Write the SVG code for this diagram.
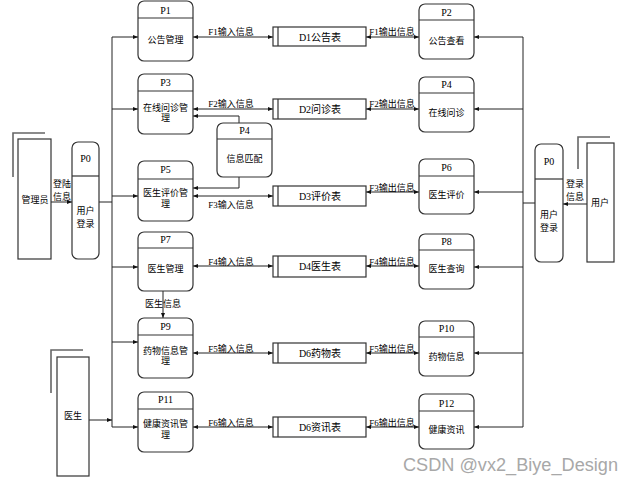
<svg xmlns="http://www.w3.org/2000/svg" width="634" height="484" viewBox="0 0 634 484">
<defs>
<marker id="ah" viewBox="0 0 10 10" refX="10" refY="5" markerWidth="5" markerHeight="5" orient="auto-start-reverse" markerUnits="userSpaceOnUse">
<path d="M0,1 L10,5 L0,9 z" fill="#111"/>
</marker>
<style>
.box{fill:#fff;stroke:#333;stroke-width:1.2}
.hd{stroke:#333;stroke-width:1.2}
.ln{fill:none;stroke:#222;stroke-width:1}
.gl{fill:none;stroke:#666;stroke-width:1.6}
.t{font-family:"Liberation Serif","Noto Sans CJK SC",serif;font-size:9px;fill:#000;text-anchor:middle;dominant-baseline:central}
.p{font-family:"Liberation Serif","Noto Sans CJK SC",serif;font-size:10px;fill:#000;text-anchor:middle;dominant-baseline:central}
.s{font-family:"Liberation Serif","Noto Sans CJK SC",serif;font-size:10px;fill:#000;text-anchor:middle;dominant-baseline:central}
</style>
</defs>
<rect width="634" height="484" fill="#fff"/>

<g id="connectors">
<path class="ln" d="M112,37 V427"/>
<path class="ln" d="M99,202 H112"/>
<path class="ln" d="M112,37 H138" marker-end="url(#ah)"/>
<path class="ln" d="M112,109 H138" marker-end="url(#ah)"/>
<path class="ln" d="M112,196 H138" marker-end="url(#ah)"/>
<path class="ln" d="M112,267 H138" marker-end="url(#ah)"/>
<path class="ln" d="M112,342 H138" marker-end="url(#ah)"/>
<path class="ln" d="M112,427 H138" marker-end="url(#ah)"/>
<path class="ln" d="M89,420 H112" marker-end="url(#ah)"/>
<path class="ln" d="M51,202 H72" marker-end="url(#ah)"/>
<path class="ln" d="M523,37 V427"/>
<path class="ln" d="M535,203 H523"/>
<path class="ln" d="M523,37 H474" marker-end="url(#ah)"/>
<path class="ln" d="M523,109 H474" marker-end="url(#ah)"/>
<path class="ln" d="M523,192 H474" marker-end="url(#ah)"/>
<path class="ln" d="M523,267 H474" marker-end="url(#ah)"/>
<path class="ln" d="M523,353 H474" marker-end="url(#ah)"/>
<path class="ln" d="M523,427 H474" marker-end="url(#ah)"/>
<path class="ln" d="M587,204 H563" marker-end="url(#ah)"/>
<path class="ln" d="M193,37 H273" marker-start="url(#ah)" marker-end="url(#ah)"/>
<path class="ln" d="M366,37 H419" marker-start="url(#ah)" marker-end="url(#ah)"/>
<path class="ln" d="M193,109 H273" marker-start="url(#ah)" marker-end="url(#ah)"/>
<path class="ln" d="M366,109 H419" marker-start="url(#ah)" marker-end="url(#ah)"/>
<path class="ln" d="M193,196 H273" marker-start="url(#ah)" marker-end="url(#ah)"/>
<path class="ln" d="M366,192 H419" marker-start="url(#ah)" marker-end="url(#ah)"/>
<path class="ln" d="M193,266 H273" marker-start="url(#ah)" marker-end="url(#ah)"/>
<path class="ln" d="M366,266 H419" marker-start="url(#ah)" marker-end="url(#ah)"/>
<path class="ln" d="M193,353 H273" marker-start="url(#ah)" marker-end="url(#ah)"/>
<path class="ln" d="M366,353 H419" marker-start="url(#ah)" marker-end="url(#ah)"/>
<path class="ln" d="M193,427 H273" marker-start="url(#ah)" marker-end="url(#ah)"/>
<path class="ln" d="M366,427 H419" marker-start="url(#ah)" marker-end="url(#ah)"/>
<path class="ln" d="M239,123 V116 H193" marker-end="url(#ah)"/>
<path class="ln" d="M239,177 V188 H193" marker-end="url(#ah)"/>
<path class="ln" d="M163,291 V318" marker-end="url(#ah)"/>
<text class="t" x="231" y="32">F1输入信息</text>
<text class="t" x="392" y="32">F1输出信息</text>
<text class="t" x="231" y="104">F2输入信息</text>
<text class="t" x="392" y="104">F2输出信息</text>
<text class="t" x="231" y="205">F3输入信息</text>
<text class="t" x="392" y="188">F3输出信息</text>
<text class="t" x="231" y="262">F4输入信息</text>
<text class="t" x="392" y="262">F4输出信息</text>
<text class="t" x="231" y="349">F5输入信息</text>
<text class="t" x="392" y="349">F5输出信息</text>
<text class="t" x="231" y="423">F6输入信息</text>
<text class="t" x="392" y="423">F6输出信息</text>
<text class="t" x="163" y="304">医生信息</text>
<text class="t" x="62" y="184">登陆</text>
<text class="t" x="62" y="197">信息</text>
<text class="t" x="575" y="184">登录</text>
<text class="t" x="575" y="197">信息</text>
</g>

<g id="E_admin">
<path class="gl" d="M13,177 V133 H45"/>
<rect class="box" x="18" y="139" width="33" height="120"/>
<text class="t" x="35" y="200">管理员</text>
</g>
<g id="E_doctor">
<path class="gl" d="M51,393 V350 H83"/>
<rect class="box" x="57" y="357" width="32" height="119"/>
<text class="t" x="73" y="416">医生</text>
</g>
<g id="E_user">
<path class="gl" d="M578,169 V137 H610"/>
<rect class="box" x="587" y="143" width="27" height="119"/>
<text class="t" x="600" y="203">用户</text>
</g>

<g id="P0L">
<rect class="box" x="72" y="142" width="27" height="117" rx="6"/>
<line class="hd" x1="72" y1="176" x2="99" y2="176"/>
<text class="p" x="85.5" y="158">P0</text>
<text class="t" x="85.5" y="211">用户</text>
<text class="t" x="85.5" y="224">登录</text>
</g>
<g id="P0R">
<rect class="box" x="535" y="144" width="28" height="118" rx="6"/>
<line class="hd" x1="535" y1="179" x2="563" y2="179"/>
<text class="p" x="549" y="161">P0</text>
<text class="t" x="549" y="215">用户</text>
<text class="t" x="549" y="228">登录</text>
</g>

<g id="P1">
<rect class="box" x="138" y="1" width="55" height="60" rx="6"/>
<line class="hd" x1="138" y1="18" x2="193" y2="18"/>
<text class="p" x="165.5" y="10">P1</text>
<text class="t" x="165.5" y="40">公告管理</text>
</g>
<g id="P3">
<rect class="box" x="138" y="74" width="55" height="60" rx="6"/>
<line class="hd" x1="138" y1="91" x2="193" y2="91"/>
<text class="p" x="165.5" y="82">P3</text>
<text class="t" x="165.5" y="108">在线问诊管</text>
<text class="t" x="165.5" y="118">理</text>
</g>
<g id="P5">
<rect class="box" x="138" y="161" width="55" height="60" rx="6"/>
<line class="hd" x1="138" y1="179" x2="193" y2="179"/>
<text class="p" x="165.5" y="169">P5</text>
<text class="t" x="165.5" y="193">医生评价管</text>
<text class="t" x="165.5" y="204">理</text>
</g>
<g id="P7">
<rect class="box" x="138" y="232" width="55" height="59" rx="6"/>
<line class="hd" x1="138" y1="248" x2="193" y2="248"/>
<text class="p" x="165.5" y="239">P7</text>
<text class="t" x="165.5" y="269">医生管理</text>
</g>
<g id="P9">
<rect class="box" x="138" y="318" width="55" height="60" rx="6"/>
<line class="hd" x1="138" y1="335" x2="193" y2="335"/>
<text class="p" x="165.5" y="326">P9</text>
<text class="t" x="165.5" y="351">药物信息管</text>
<text class="t" x="165.5" y="361">理</text>
</g>
<g id="P11">
<rect class="box" x="138" y="392" width="55" height="60" rx="6"/>
<line class="hd" x1="138" y1="409" x2="193" y2="409"/>
<text class="p" x="165.5" y="399">P11</text>
<text class="t" x="165.5" y="424">健康资讯管</text>
<text class="t" x="165.5" y="435">理</text>
</g>

<g id="P4M">
<rect class="box" x="217" y="123" width="55" height="54" rx="6"/>
<line class="hd" x1="217" y1="139" x2="272" y2="139"/>
<text class="p" x="244.5" y="130">P4</text>
<text class="t" x="244.5" y="159">信息匹配</text>
</g>

<g id="P2">
<rect class="box" x="419" y="4" width="55" height="55" rx="6"/>
<line class="hd" x1="419" y1="20" x2="474" y2="20"/>
<text class="p" x="446.5" y="12">P2</text>
<text class="t" x="446.5" y="41">公告查看</text>
</g>
<g id="P4">
<rect class="box" x="419" y="77" width="55" height="55" rx="6"/>
<line class="hd" x1="419" y1="93" x2="474" y2="93"/>
<text class="p" x="446.5" y="84">P4</text>
<text class="t" x="446.5" y="113">在线问诊</text>
</g>
<g id="P6">
<rect class="box" x="419" y="159" width="55" height="55" rx="6"/>
<line class="hd" x1="419" y1="176" x2="474" y2="176"/>
<text class="p" x="446.5" y="167">P6</text>
<text class="t" x="446.5" y="195">医生评价</text>
</g>
<g id="P8">
<rect class="box" x="419" y="234" width="55" height="55" rx="6"/>
<line class="hd" x1="419" y1="250" x2="474" y2="250"/>
<text class="p" x="446.5" y="241">P8</text>
<text class="t" x="446.5" y="269">医生查询</text>
</g>
<g id="P10">
<rect class="box" x="419" y="321" width="55" height="55" rx="6"/>
<line class="hd" x1="419" y1="337" x2="474" y2="337"/>
<text class="p" x="446.5" y="328">P10</text>
<text class="t" x="446.5" y="357">药物信息</text>
</g>
<g id="P12">
<rect class="box" x="419" y="394" width="55" height="55" rx="6"/>
<line class="hd" x1="419" y1="411" x2="474" y2="411"/>
<text class="p" x="446.5" y="403">P12</text>
<text class="t" x="446.5" y="430">健康资讯</text>
</g>

<g id="D1">
<rect class="box" x="273" y="27" width="93" height="19"/>
<line class="hd" x1="278" y1="27" x2="278" y2="46"/>
<text class="s" x="320" y="37">D1公告表</text>
</g>
<g id="D2">
<rect class="box" x="273" y="99" width="93" height="20"/>
<line class="hd" x1="278" y1="99" x2="278" y2="119"/>
<text class="s" x="320" y="109">D2问诊表</text>
</g>
<g id="D3">
<rect class="box" x="273" y="186" width="93" height="20"/>
<line class="hd" x1="278" y1="186" x2="278" y2="206"/>
<text class="s" x="320" y="196">D3评价表</text>
</g>
<g id="D4">
<rect class="box" x="273" y="256" width="93" height="21"/>
<line class="hd" x1="278" y1="256" x2="278" y2="277"/>
<text class="s" x="320" y="266.5">D4医生表</text>
</g>
<g id="D6a">
<rect class="box" x="273" y="343" width="93" height="20"/>
<line class="hd" x1="278" y1="343" x2="278" y2="363"/>
<text class="s" x="320" y="353">D6药物表</text>
</g>
<g id="D6b">
<rect class="box" x="273" y="417" width="93" height="20"/>
<line class="hd" x1="278" y1="417" x2="278" y2="437"/>
<text class="s" x="320" y="427">D6资讯表</text>
</g>

<text x="403" y="471" font-family="'Liberation Sans','Noto Sans',sans-serif" font-size="18" fill="#a8a8a8" textLength="215" lengthAdjust="spacingAndGlyphs">CSDN @vx2_Biye_Design</text>
</svg>
